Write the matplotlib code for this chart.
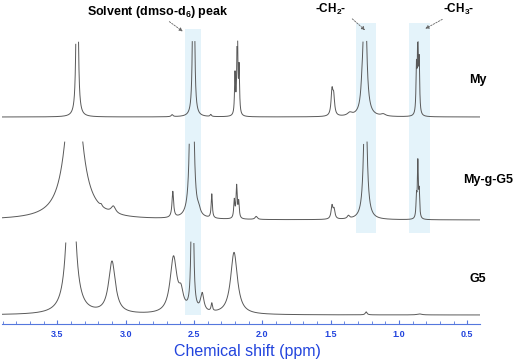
import numpy as np
import matplotlib
matplotlib.use("Agg")
import matplotlib.pyplot as plt

plt.rcParams['font.family'] = ['Liberation Sans', 'DejaVu Sans']
plt.rcParams['mathtext.fontset'] = 'custom'
plt.rcParams['mathtext.default'] = 'bf'
plt.rcParams['mathtext.bf'] = 'Liberation Sans:bold'
plt.rcParams['mathtext.rm'] = 'Liberation Sans:bold'

# peak list: shift (ppm), height, half width (ppm)
my_shift = [3.355, 2.66, 2.503, 2.377, 2.20, 2.183, 2.17, 1.49, 1.478, 1.36, 1.115, 1.249, 1.27, 0.872, 0.862, 0.852]
my_height = [385, 2, 511, 2, 40, 100, 45, 24, 18, 3, 2, 160, 12, 45, 75, 50]
my_width = [0.005, 0.008, 0.004, 0.006, 0.004, 0.004, 0.004, 0.008, 0.008, 0.02, 0.02, 0.012, 0.01, 0.004, 0.004, 0.004]

myg_shift = [3.38, 3.18, 3.09, 2.655, 2.516, 2.465, 2.37, 2.205, 2.188, 2.173, 2.045, 1.49, 1.475, 1.37, 1.246, 0.872, 0.862, 0.852]
myg_height = [176, 2, 7, 26, 620, 5, 24, 18, 32, 16, 3, 13, 9, 3, 162, 20, 55, 25]
myg_width = [0.059, 0.008, 0.02, 0.007, 0.007, 0.012, 0.005, 0.005, 0.005, 0.005, 0.01, 0.008, 0.008, 0.01, 0.012, 0.004, 0.004, 0.004]

g5_shift = [3.40, 3.10, 2.65, 2.595, 2.512, 2.44, 2.37, 2.207, 1.24, 0.85]
g5_height = [240, 52, 56, 16, 400, 18, 8, 62, 3, 1]
g5_width = [0.025, 0.03, 0.03, 0.02, 0.005, 0.015, 0.006, 0.03, 0.008, 0.02]

names = ["My", "My-g-G5", "G5"]
ticks = [3.5, 3.0, 2.5, 2.0, 1.5, 1.0, 0.5]

# layout (data units ~ pixels above the axis)
offsets = [207, 104, 9]
clips = [77, 78, 73]

ppm = np.linspace(3.905, 0.407, 8000)


def spectrum(shift, height, width):
    y = np.zeros_like(ppm)
    for s, h, w in zip(shift, height, width):
        y += h * w**2 / ((ppm - s)**2 + w**2)
    return y


fig = plt.figure(figsize=(5.2, 3.62), dpi=100)
ax = fig.add_axes([2 / 520, 38 / 362, 478 / 520, 324 / 362])
ax.set_xlim(3.905, 0.407)
ax.set_ylim(0, 324)

band = '#e4f3fa'
ax.axvspan(2.566, 2.449, ymin=9 / 324, ymax=295 / 324, color=band, lw=0, zorder=0)
ax.axvspan(1.312, 1.166, ymin=91 / 324, ymax=301 / 324, color=band, lw=0, zorder=0)
ax.axvspan(0.925, 0.771, ymin=91 / 324, ymax=301 / 324, color=band, lw=0, zorder=0)

peaks = [(my_shift, my_height, my_width), (myg_shift, myg_height, myg_width), (g5_shift, g5_height, g5_width)]
for (s, h, w), off, cl in zip(peaks, offsets, clips):
    y = spectrum(s, h, w)
    y = np.where(y > cl, np.nan, y)
    ax.plot(ppm, y + off, color='#595959', lw=0.7)

label_y = [244, 144, 45]
for name, ly in zip(names, label_y):
    ax.text(0.42 if name != "My-g-G5" else 0.35, ly, name, ha='center', va='center',
            fontsize=9, fontweight='bold', clip_on=False)

arrow = dict(arrowstyle='-|>', color='#666666', lw=0.6, ls=(0, (2, 1.5)), mutation_scale=5)
ax.annotate('', xy=(2.566, 291), xytext=(2.697, 304), arrowprops=arrow)
ax.annotate('', xy=(1.233, 292), xytext=(1.357, 307), arrowprops=arrow)
ax.annotate('', xy=(0.825, 294), xytext=(0.665, 306), arrowprops=arrow)
ax.text(2.763, 312, r'Solvent (dmso-d$_6$) peak', ha='center', va='center', fontsize=9, fontweight='bold')
ax.text(1.50, 315, r'-CH$_2$-', ha='center', va='center', fontsize=8.5, fontweight='bold')
ax.text(0.56, 315, r'-CH$_3$-', ha='center', va='center', fontsize=8.5, fontweight='bold')

for sp in ['top', 'left', 'right']:
    ax.spines[sp].set_visible(False)
ax.spines['bottom'].set_color('#5577dd')
ax.spines['bottom'].set_linewidth(0.8)
ax.set_yticks([])
ax.set_xticks(ticks)
ax.set_xticklabels([f"{t:.1f}" for t in ticks])
ax.set_xticks(np.arange(0.5, 3.95, 0.1), minor=True)
ax.tick_params(axis='x', which='major', direction='in', length=3, color='#5577dd',
               labelcolor='#2244dd', labelsize=6.5, pad=4)
ax.tick_params(axis='x', which='minor', direction='in', length=2, color='#5577dd')
for lab in ax.get_xticklabels():
    lab.set_fontweight('bold')
ax.set_xlabel('Chemical shift (ppm)', fontsize=11.5, color='#2244dd', va='center')
ax.xaxis.set_label_coords(0.513, -0.086)
ax.set_facecolor('none')

fig.savefig('out.png', dpi=100)
